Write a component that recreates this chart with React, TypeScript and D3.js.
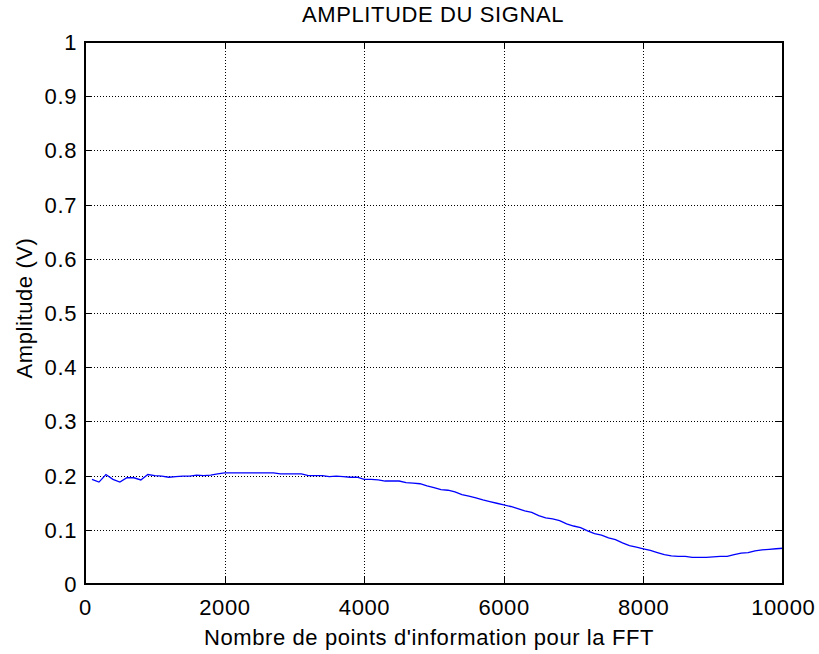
import React, { useEffect, useRef } from 'react'
import * as d3 from 'd3'

// nombre de points (x) et amplitude mesurée (V)
const pointCounts = d3.range(100, 10001, 100)
const amplitudes = [
  0.193, 0.188, 0.202, 0.193, 0.188, 0.196, 0.196, 0.192, 0.202, 0.200,
  0.199, 0.197, 0.198, 0.199, 0.199, 0.201, 0.200, 0.201, 0.203, 0.205,
  0.205, 0.205, 0.205, 0.205, 0.205, 0.205, 0.205, 0.203, 0.203, 0.203,
  0.203, 0.200, 0.200, 0.200, 0.198, 0.199, 0.198, 0.197, 0.197, 0.193,
  0.193, 0.192, 0.190, 0.190, 0.190, 0.187, 0.186, 0.185, 0.181, 0.178,
  0.174, 0.173, 0.170, 0.165, 0.162, 0.159, 0.155, 0.152, 0.149, 0.146,
  0.143, 0.139, 0.135, 0.132, 0.126, 0.122, 0.120, 0.117, 0.111, 0.107,
  0.104, 0.098, 0.093, 0.090, 0.085, 0.082, 0.076, 0.071, 0.068, 0.065,
  0.062, 0.058, 0.054, 0.052, 0.051, 0.051, 0.049, 0.049, 0.049, 0.050,
  0.051, 0.051, 0.054, 0.057, 0.058, 0.061, 0.063, 0.064, 0.065, 0.066,
]
const xTicks = [0, 2000, 4000, 6000, 8000, 10000]
const yTicks = [0, 0.1, 0.2, 0.3, 0.4, 0.5, 0.6, 0.7, 0.8, 0.9, 1]

const title = 'AMPLITUDE DU SIGNAL'
const xLabel = "Nombre de points d'information pour la FFT"
const yLabel = 'Amplitude (V)'

const width = 819
const height = 654
const margin = { left: 85, top: 42, right: 36, bottom: 70 }
const font = '"Liberation Sans", Arial, sans-serif'

const App = () => {
  const ref = useRef<SVGSVGElement>(null)

  useEffect(() => {
    const innerWidth = width - margin.left - margin.right
    const innerHeight = height - margin.top - margin.bottom

    const x = d3.scaleLinear().domain([0, 10000]).range([0, innerWidth])
    const y = d3.scaleLinear().domain([0, 1]).range([innerHeight, 0])
    const px = (v: number) => Math.round(v) + 0.5

    const svg = d3.select(ref.current)
    svg.selectAll('*').remove()
    const g = svg.append('g').attr('transform', `translate(${margin.left},${margin.top})`)

    // grille pointillée
    const grid = g.append('g')
      .attr('stroke', '#000').attr('stroke-width', 1)
      .attr('stroke-dasharray', '1,2').attr('shape-rendering', 'crispEdges')
    grid.selectAll('.gx').data(xTicks.slice(1, -1)).enter().append('line')
      .attr('x1', d => px(x(d))).attr('x2', d => px(x(d)))
      .attr('y1', 0).attr('y2', innerHeight)
    grid.selectAll('.gy').data(yTicks.slice(1, -1)).enter().append('line')
      .attr('y1', d => px(y(d))).attr('y2', d => px(y(d)))
      .attr('x1', 0).attr('x2', innerWidth)

    // courbe
    const line = d3.line<number>()
      .x((d, i) => x(pointCounts[i]))
      .y(d => y(d))
    g.append('path').datum(amplitudes)
      .attr('d', line)
      .attr('fill', 'none')
      .attr('stroke', '#0000ff')
      .attr('stroke-width', 1.3)

    // graduations intérieures sur les quatre côtés
    const tl = 7
    const ticks = g.append('g').attr('stroke', '#000').attr('stroke-width', 1)
      .attr('shape-rendering', 'crispEdges')
    xTicks.forEach(t => {
      ticks.append('line').attr('x1', px(x(t))).attr('x2', px(x(t))).attr('y1', innerHeight).attr('y2', innerHeight - tl)
      ticks.append('line').attr('x1', px(x(t))).attr('x2', px(x(t))).attr('y1', 0).attr('y2', tl)
    })
    yTicks.forEach(t => {
      ticks.append('line').attr('y1', px(y(t))).attr('y2', px(y(t))).attr('x1', 0).attr('x2', tl)
      ticks.append('line').attr('y1', px(y(t))).attr('y2', px(y(t))).attr('x1', innerWidth).attr('x2', innerWidth - tl)
    })

    g.append('rect')
      .attr('width', innerWidth).attr('height', innerHeight)
      .attr('fill', 'none').attr('stroke', '#000').attr('stroke-width', 2)

    const txt = (sel: any) => sel
      .attr('font-family', font).attr('font-size', 22)
      .attr('letter-spacing', 0.6).attr('fill', '#000')

    g.selectAll('.xt').data(xTicks).enter().append('text')
      .call(txt)
      .attr('x', d => x(d) + 0.3).attr('y', innerHeight + 31)
      .attr('text-anchor', 'middle')
      .text(d => String(d))

    g.selectAll('.yt').data(yTicks).enter().append('text')
      .call(txt)
      .attr('x', -8).attr('y', d => y(d))
      .attr('dy', '0.36em')
      .attr('text-anchor', 'end')
      .text(d => d3.format('~g')(d))

    svg.append('text').call(txt)
      .attr('x', margin.left + innerWidth / 2 - 1).attr('y', 22)
      .attr('text-anchor', 'middle').text(title)

    svg.append('text').call(txt)
      .attr('x', margin.left + innerWidth / 2 - 5).attr('y', 645)
      .attr('text-anchor', 'middle').text(xLabel)

    svg.append('text').call(txt)
      .attr('transform', `translate(32,${margin.top + innerHeight / 2 - 5}) rotate(-90)`)
      .attr('text-anchor', 'middle').text(yLabel)
  }, [])

  return (
    <svg ref={ref} width={width} height={height}
      style={{ position: 'absolute', left: 0, top: 0, background: '#fff' }} />
  )
}

export default App
